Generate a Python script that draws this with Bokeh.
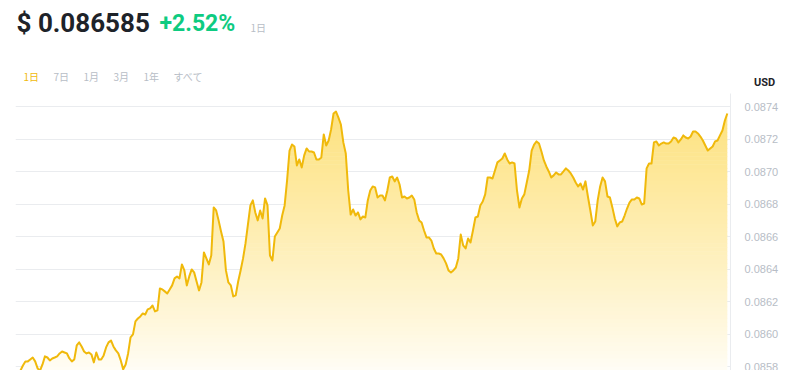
import numpy as np
from bokeh.plotting import figure
from bokeh.layouts import column
from bokeh.models import Range1d, FixedTicker, PrintfTickFormatter, Label
from bokeh.embed import file_html
from bokeh.resources import INLINE

# ---------------- data ----------------
header_price = "$ 0.086585"
header_change = "+2.52%"
header_period = "1日"
currency = "USD"
range_tabs = ["1日", "7日", "1月", "3月", "1年", "すべて"]
interval_minutes = 5

price_usd = [
    0.085778, 0.085809, 0.085834, 0.085834, 0.085846, 0.085858, 0.085834, 0.085791, 0.085778, 0.085815,
    0.085865, 0.085858, 0.085840, 0.085852, 0.085858, 0.085865, 0.085883, 0.085895, 0.085889, 0.085883,
    0.085852, 0.085834, 0.085846, 0.085932, 0.085951, 0.085926, 0.085895, 0.085883, 0.085889, 0.085877,
    0.085828, 0.085889, 0.085846, 0.085846, 0.085871, 0.085920, 0.085951, 0.085963, 0.085926, 0.085902,
    0.085883, 0.085840, 0.085785, 0.085815, 0.085883, 0.085982, 0.086000, 0.086080, 0.086098, 0.086111,
    0.086129, 0.086123, 0.086154, 0.086160, 0.086178, 0.086142, 0.086148, 0.086283, 0.086277, 0.086265,
    0.086252, 0.086277, 0.086302, 0.086345, 0.086357, 0.086345, 0.086431, 0.086394, 0.086302, 0.086357,
    0.086400, 0.086382, 0.086326, 0.086271, 0.086320, 0.086505, 0.086468, 0.086431, 0.086486, 0.086782,
    0.086763, 0.086702, 0.086634, 0.086572, 0.086394, 0.086320, 0.086302, 0.086234, 0.086240, 0.086326,
    0.086394, 0.086468, 0.086560, 0.086677, 0.086794, 0.086825, 0.086751, 0.086702, 0.086763, 0.086714,
    0.086837, 0.086794, 0.086486, 0.086455, 0.086603, 0.086628, 0.086652, 0.086732, 0.086794, 0.086948,
    0.087132, 0.087169, 0.087157, 0.087040, 0.087077, 0.087028, 0.087102, 0.087145, 0.087126, 0.087126,
    0.087120, 0.087077, 0.087077, 0.087089, 0.087231, 0.087163, 0.087194, 0.087262, 0.087360, 0.087372,
    0.087335, 0.087292, 0.087182, 0.087114, 0.086886, 0.086738, 0.086769, 0.086732, 0.086751, 0.086708,
    0.086726, 0.086720, 0.086825, 0.086886, 0.086911, 0.086905, 0.086843, 0.086855, 0.086855, 0.086825,
    0.086886, 0.086966, 0.086972, 0.086942, 0.086966, 0.086923, 0.086843, 0.086849, 0.086837, 0.086843,
    0.086855, 0.086831, 0.086751, 0.086702, 0.086689, 0.086640, 0.086597, 0.086597, 0.086578, 0.086529,
    0.086498, 0.086498, 0.086492, 0.086468, 0.086437, 0.086394, 0.086382, 0.086394, 0.086412, 0.086468,
    0.086615, 0.086548, 0.086529, 0.086591, 0.086566, 0.086640, 0.086720, 0.086726, 0.086794, 0.086818,
    0.086862, 0.086966, 0.086966, 0.086960, 0.087009, 0.087059, 0.087071, 0.087083, 0.087114, 0.087077,
    0.087052, 0.087059, 0.087052, 0.086886, 0.086782, 0.086837, 0.086862, 0.086935, 0.087009, 0.087132,
    0.087169, 0.087188, 0.087175, 0.087126, 0.087071, 0.087034, 0.087003, 0.086966, 0.086979, 0.086997,
    0.086985, 0.086985, 0.087003, 0.087022, 0.087009, 0.086991, 0.086966, 0.086935, 0.086911, 0.086929,
    0.086892, 0.086942, 0.086849, 0.086763, 0.086671, 0.086695, 0.086825, 0.086911, 0.086966, 0.086942,
    0.086849, 0.086843, 0.086782, 0.086714, 0.086665, 0.086689, 0.086695, 0.086732, 0.086775, 0.086812,
    0.086831, 0.086831, 0.086843, 0.086837, 0.086800, 0.086806, 0.087022, 0.087052, 0.087052, 0.087182,
    0.087188, 0.087163, 0.087175, 0.087182, 0.087175, 0.087175, 0.087188, 0.087212, 0.087206, 0.087182,
    0.087200, 0.087225, 0.087212, 0.087206, 0.087218, 0.087249, 0.087249, 0.087237, 0.087218, 0.087194,
    0.087163, 0.087132, 0.087145, 0.087157, 0.087188, 0.087194, 0.087225, 0.087255, 0.087317, 0.087360,
]

y_ticks = [0.0858, 0.0860, 0.0862, 0.0864, 0.0866, 0.0868, 0.0870, 0.0872, 0.0874]

# ---------------- styling ----------------
LINE = "#f0b90b"
GRID = "#eaecef"
MUTED = "#b7bdc6"
DARK = "#1e2329"
GREEN = "#0ecb81"
HEAD_H = 93

minutes = np.arange(len(price_usd)) * interval_minutes
prices = np.array(price_usd)

# ---------------- header strip (its own small figure, pixel coordinates) ----------------
head = figure(width=800, height=HEAD_H, output_backend="svg", toolbar_location=None,
              x_range=Range1d(0, 800), y_range=Range1d(HEAD_H, 0),
              x_axis_location=None, y_axis_location=None,
              min_border_left=0, min_border_right=0, min_border_top=0, min_border_bottom=0)
if "frame_align" in head.properties():
    head.frame_align = False
head.outline_line_color = None
head.grid.visible = False
head.border_fill_color = "white"

def lab(text, cx, cy, size, color, font="Roboto", style="normal", align="left"):
    head.add_layout(Label(x=cx, y=cy, text=text, text_font=font, text_font_size=size,
                          text_color=color, text_font_style=style, text_align=align,
                          text_baseline="middle"))

lab(header_price, 16, 22, "26px", DARK, style="bold")
lab(header_change, 159, 23, "23px", GREEN, style="bold")
lab(header_period, 250, 27, "10px", MUTED, font="Noto Sans CJK JP")
tab_x = [23, 53, 83, 113, 143, 173]
for i, (tx, name) in enumerate(zip(tab_x, range_tabs)):
    lab(name, tx, 76, "10px", LINE if i == 0 else MUTED, font="Noto Sans CJK JP")
lab(currency, 764, 82, "11px", DARK, style="bold", align="center")

# ---------------- price chart ----------------
y_lo, y_hi = 0.085778, 0.087483
p = figure(width=800, height=370 - HEAD_H, output_backend="svg", toolbar_location=None,
           x_range=Range1d(-10.2, 1451.5), y_range=Range1d(y_lo, y_hi),
           x_axis_location=None, y_axis_location="right",
           min_border_left=15, min_border_right=70, min_border_top=0, min_border_bottom=0)
if "frame_align" in p.properties():
    p.frame_align = False
p.outline_line_color = None
p.border_fill_color = "white"
p.xgrid.visible = False
p.ygrid.grid_line_color = GRID
p.ygrid.grid_line_width = 1

ax = p.yaxis[0]
ax.ticker = FixedTicker(ticks=y_ticks)
ax.formatter = PrintfTickFormatter(format="%.4f")
ax.axis_line_color = GRID
ax.major_tick_line_color = None
ax.minor_tick_line_color = None
ax.major_label_text_color = MUTED
ax.major_label_text_font = "Liberation Sans"
ax.major_label_text_font_size = "11px"
ax.major_label_standoff = 8

# vertical gradient fill under the line, built as thin horizontal bands
fx = np.linspace(minutes[0], minutes[-1], len(minutes) * 12)
fy = np.interp(fx, minutes, prices)
n_bands = 70
edges = np.linspace(y_lo, y_hi, n_bands + 1)
top_rgb = np.array([253, 224, 120])
bot_rgb = np.array([255, 253, 246])
for i in range(n_bands):
    b0, b1 = edges[i], edges[i + 1]
    if fy.max() <= b0:
        continue
    t = ((b0 + b1) / 2 - y_lo) / (y_hi - y_lo)
    rgb = bot_rgb + (top_rgb - bot_rgb) * t ** 0.9
    col = "#%02x%02x%02x" % tuple(int(round(c)) for c in rgb)
    eps = (b1 - b0) * 0.15
    y2 = np.clip(fy, b0, b1 + eps)
    p.varea(x=fx, y1=np.full_like(fx, b0), y2=y2, fill_color=col, fill_alpha=1.0)

p.line(minutes, prices, line_color=LINE, line_width=2, line_join="round")

layout = column(head, p, spacing=0)
open("out.html", "w").write(file_html(layout, INLINE))
